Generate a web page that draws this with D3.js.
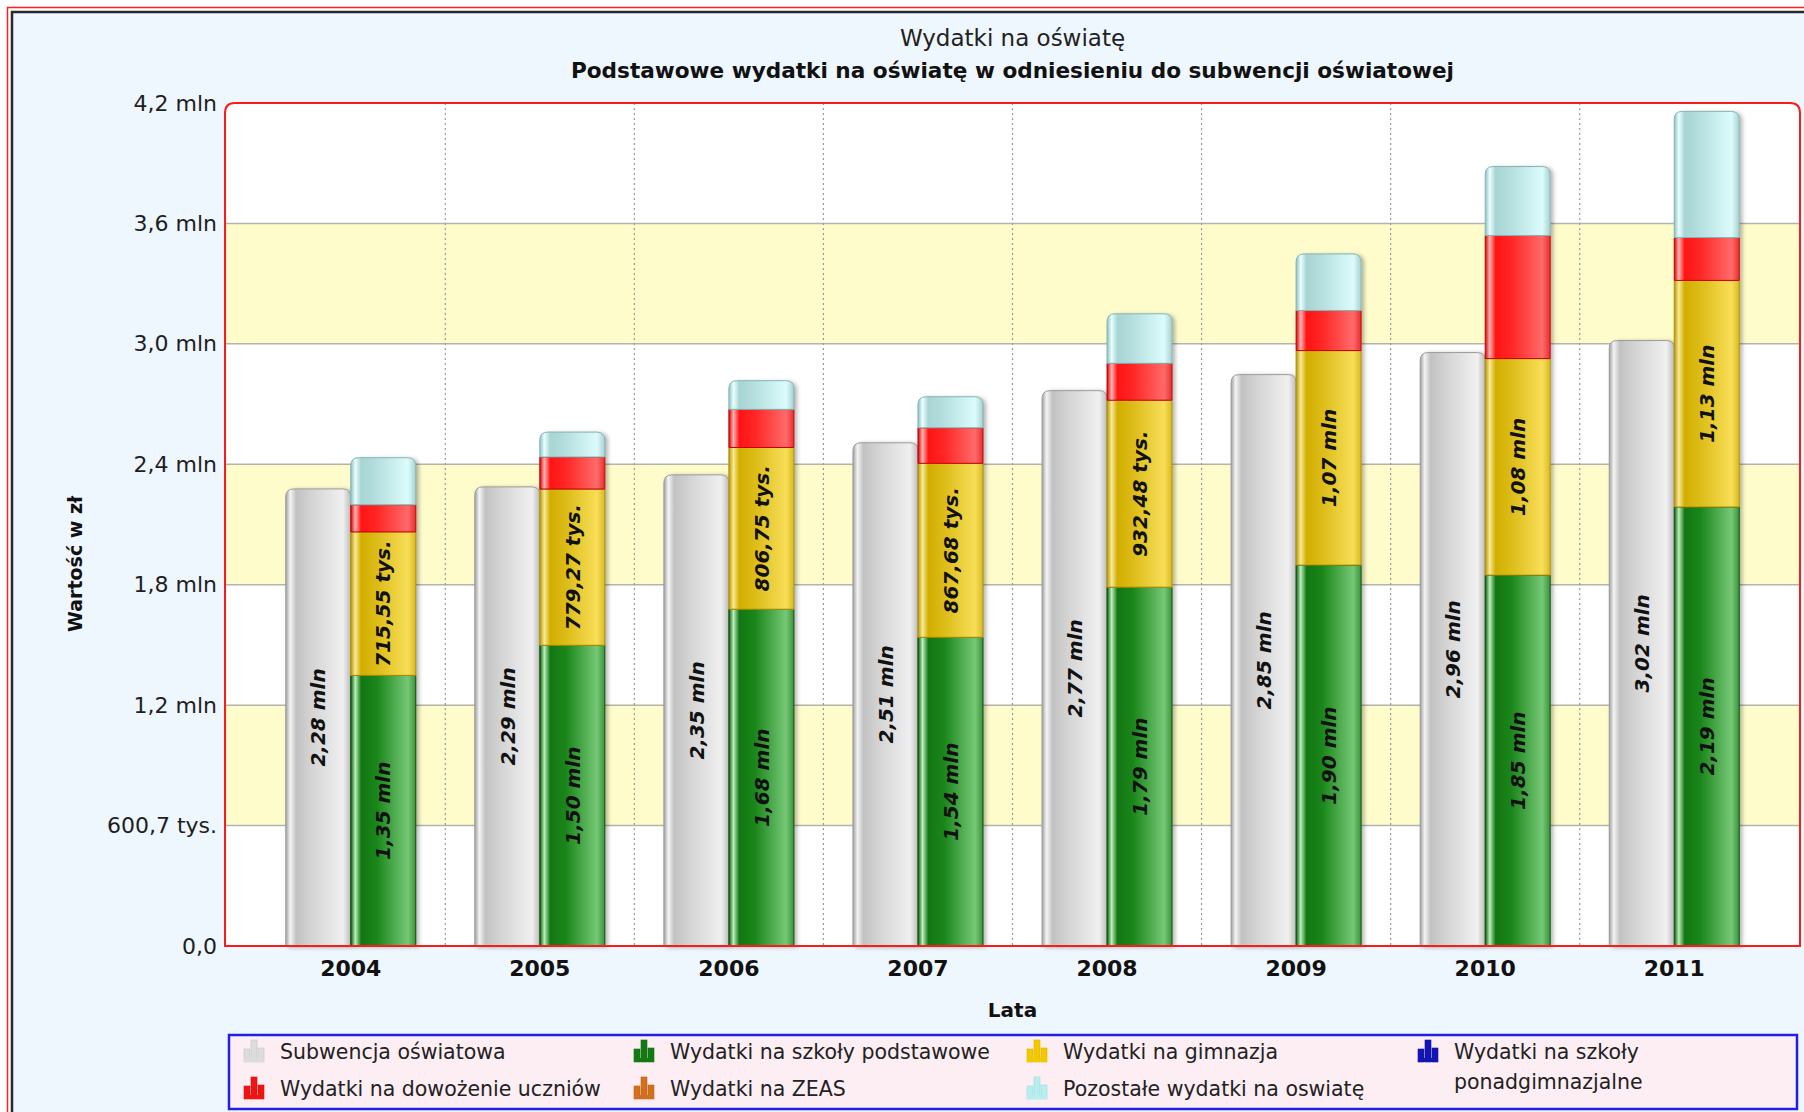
<!DOCTYPE html>
<html>
<head>
<meta charset="utf-8">
<script src="https://cdnjs.cloudflare.com/ajax/libs/d3/7.8.5/d3.min.js"></script>
<style>
body { margin: 0; background: #fff; }
svg { display: block; }
text { font-family: "DejaVu Sans", Verdana, sans-serif; }
</style>
</head>
<body>
<svg id="chart" width="1804" height="1112"></svg>
<script>
'use strict';

// data (values in zl)
var years = ['2004', '2005', '2006', '2007', '2008', '2009', '2010', '2011'];
var subwencja = [2280000, 2290000, 2350000, 2510000, 2770000, 2850000, 2960000, 3020000];
var podstawowe = [1350000, 1500000, 1680000, 1540000, 1790000, 1900000, 1850000, 2190000];
var gimnazja = [715550, 779270, 806750, 867680, 932480, 1070000, 1080000, 1130000];
var ponadgimnazjalne = [0, 0, 0, 0, 0, 0, 0, 0];
var dowozenie = [135000, 160000, 190000, 177000, 184000, 200000, 614000, 214000];
var zeas = [0, 0, 0, 0, 0, 0, 0, 0];
var pozostale = [235000, 124000, 143000, 155000, 247000, 282000, 344000, 629000];

var tickValues = [0, 600700, 1201400, 1802100, 2402800, 3003500, 3604200, 4204900];
var tickLabels = ['0,0', '600,7 tys.', '1,2 mln', '1,8 mln', '2,4 mln', '3,0 mln', '3,6 mln', '4,2 mln'];

var legendNames = ['Subwencja oświatowa', 'Wydatki na szkoły podstawowe', 'Wydatki na gimnazja',
    'Wydatki na szkoły ponadgimnazjalne', 'Wydatki na dowożenie uczniów', 'Wydatki na ZEAS',
    'Pozostałe wydatki na oswiatę'];
var legendColors = ['#dcdcdc', '#137a13', '#f2c800', '#1414b4', '#ee1414', '#d2701e', '#b4f0f0'];

var W = 1804, H = 1112;
var plot = {left: 225, top: 103, right: 1800, bottom: 946};

var svg = d3.select('#chart');
var defs = svg.append('defs');

// cylinder look gradients
var gradients = {
    sub: ['#a0a0a0', '#f4f4f4', '#c2c2c2', '#d4d4d4', '#f0f0f0', '#bcbcbc'],
    podstawowe: ['#0a5a0a', '#bcefbc', '#137613', '#1a861a', '#76c876', '#3a943a'],
    gimnazja: ['#b89600', '#f8ea98', '#d2ae00', '#dcbc18', '#f8de58', '#d8ba20'],
    ponadgimnazjalne: ['#0a0a80', '#b0b0ff', '#1414b4', '#2020c0', '#6060e0', '#3030a0'],
    dowozenie: ['#d80000', '#ffb4b4', '#ff1414', '#ff2626', '#ff6a6a', '#e83030'],
    zeas: ['#a04a10', '#f4c8a0', '#c8641e', '#d07028', '#e8a060', '#b86020'],
    pozostale: ['#8cc0c0', '#eaffff', '#a8d4d4', '#b6dfdf', '#dcfcfc', '#a8d0d0']
};
var stopOffsets = ['0%', '7%', '16%', '40%', '88%', '100%'];
Object.keys(gradients).forEach(function (key) {
    var g = defs.append('linearGradient').attr('id', 'grad-' + key)
        .attr('x1', '0%').attr('x2', '100%').attr('y1', '0%').attr('y2', '0%');
    gradients[key].forEach(function (c, i) {
        g.append('stop').attr('offset', stopOffsets[i]).attr('stop-color', c);
    });
});
var strokes = {sub: '#9c9c9c', podstawowe: '#0a4e0a', gimnazja: '#b09000', ponadgimnazjalne: '#0a0a70',
    dowozenie: '#c40000', zeas: '#904010', pozostale: '#86b4b4'};

var shadow = defs.append('filter').attr('id', 'shadow')
    .attr('x', '-20%').attr('y', '-5%').attr('width', '150%').attr('height', '110%');
shadow.append('feDropShadow').attr('dx', 3).attr('dy', 1).attr('stdDeviation', 2)
    .attr('flood-color', '#000').attr('flood-opacity', 0.3);

var roundedTop = function (x0, y0, w, h, r) {
    r = Math.min(r, h, w / 2);
    return 'M' + x0 + ',' + (y0 + h) + 'L' + x0 + ',' + (y0 + r) +
        'Q' + x0 + ',' + y0 + ' ' + (x0 + r) + ',' + y0 +
        'L' + (x0 + w - r) + ',' + y0 +
        'Q' + (x0 + w) + ',' + y0 + ' ' + (x0 + w) + ',' + (y0 + r) +
        'L' + (x0 + w) + ',' + (y0 + h) + 'Z';
};

// frame
svg.append('rect').attr('width', W).attr('height', H).attr('fill', '#fff');
svg.append('rect').attr('x', 7.5).attr('y', 7.5).attr('width', W).attr('height', H)
    .attr('fill', 'none').attr('stroke', '#ff2020').attr('stroke-width', 1.5);
svg.append('rect').attr('x', 12).attr('y', 12).attr('width', W).attr('height', H)
    .attr('fill', '#eef6fe').attr('stroke', '#2a2a2a').attr('stroke-width', 2.5);

// scales
var x = d3.scaleBand().domain(years).range([plot.left, plot.right]).paddingOuter(0.165);
var pair = d3.scaleBand().domain(['sub', 'stack']).range([-65, 65]);
var y = d3.scaleLinear().domain([0, tickValues[tickValues.length - 1]]).range([plot.bottom, plot.top]);

// plot background
var plotW = plot.right - plot.left, plotH = plot.bottom - plot.top;
defs.append('clipPath').attr('id', 'plot-clip').append('path')
    .attr('d', roundedTop(plot.left, plot.top, plotW, plotH, 10));
svg.append('path').attr('d', roundedTop(plot.left, plot.top, plotW, plotH, 10)).attr('fill', '#fff');

var grid = svg.append('g').attr('clip-path', 'url(#plot-clip)');
grid.selectAll('rect.band')
    .data(tickValues.slice(0, -1).filter(function (d, i) { return i % 2 === 1; }))
    .enter().append('rect').attr('class', 'band')
    .attr('x', plot.left)
    .attr('width', plotW)
    .attr('y', function (d) { return y(d + 600700); })
    .attr('height', function (d) { return y(d) - y(d + 600700); })
    .attr('fill', '#fffccc');
grid.selectAll('line.h')
    .data(tickValues.slice(1, -1))
    .enter().append('line').attr('class', 'h')
    .attr('x1', plot.left).attr('x2', plot.right)
    .attr('y1', function (d) { return y(d); }).attr('y2', function (d) { return y(d); })
    .attr('stroke', '#b4b4aa').attr('stroke-width', 1.5);
grid.selectAll('line.v')
    .data(years.slice(0, -1))
    .enter().append('line').attr('class', 'v')
    .attr('x1', function (d) { return x(d) + x.step(); })
    .attr('x2', function (d) { return x(d) + x.step(); })
    .attr('y1', plot.top).attr('y2', plot.bottom)
    .attr('stroke', '#999').attr('stroke-width', 1.2).attr('stroke-dasharray', '2,3');

// bars
var formatValue = function (v) {
    if (v >= 1e6) return d3.format('.2f')(v / 1e6).replace('.', ',') + ' mln';
    return d3.format('.2f')(v / 1e3).replace('.', ',') + ' tys.';
};

var keys = ['podstawowe', 'gimnazja', 'ponadgimnazjalne', 'dowozenie', 'zeas', 'pozostale'];
var seriesData = {podstawowe: podstawowe, gimnazja: gimnazja, ponadgimnazjalne: ponadgimnazjalne,
    dowozenie: dowozenie, zeas: zeas, pozostale: pozostale};
var table = years.map(function (yr, i) {
    var row = {year: yr, sub: subwencja[i]};
    keys.forEach(function (k) { row[k] = seriesData[k][i]; });
    return row;
});
var stacked = d3.stack().keys(keys)(table);

var bars = svg.append('g').attr('class', 'bars');
var bw = pair.bandwidth();

// subwencja bars
bars.selectAll('path.sub').data(table).enter().append('path').attr('class', 'sub')
    .attr('d', function (d) {
        var cx = x(d.year) + x.bandwidth() / 2;
        return roundedTop(cx + pair('sub'), y(d.sub), bw, y(0) - y(d.sub), 8);
    })
    .attr('fill', 'url(#grad-sub)').attr('stroke', strokes.sub).attr('stroke-width', 1)
    .attr('filter', 'url(#shadow)');

// stacked bars: shadow body first, then segments
var topOf = function (row) {
    var s = 0;
    keys.forEach(function (k) { s += row[k]; });
    return s;
};
bars.selectAll('path.body').data(table).enter().append('path').attr('class', 'body')
    .attr('d', function (d) {
        var cx = x(d.year) + x.bandwidth() / 2;
        return roundedTop(cx + pair('stack'), y(topOf(d)), bw, y(0) - y(topOf(d)), 8);
    })
    .attr('fill', '#fff').attr('filter', 'url(#shadow)');

stacked.forEach(function (layer) {
    var key = layer.key;
    bars.selectAll('path.seg-' + key).data(layer.filter(function (d) { return d[1] - d[0] > 0; }))
        .enter().append('path').attr('class', 'seg-' + key)
        .attr('d', function (d) {
            var cx = x(d.data.year) + x.bandwidth() / 2;
            var isTop = d[1] >= topOf(d.data);
            return roundedTop(cx + pair('stack'), y(d[1]), bw, y(d[0]) - y(d[1]), isTop ? 8 : 0);
        })
        .attr('fill', 'url(#grad-' + key + ')')
        .attr('stroke', strokes[key]).attr('stroke-width', 1);
});

// value labels
var labels = [];
table.forEach(function (d) {
    var cx = x(d.year) + x.bandwidth() / 2;
    labels.push({x: cx + pair('sub') + bw / 2, y: y(d.sub / 2), text: formatValue(d.sub)});
});
stacked.filter(function (l) { return l.key === 'podstawowe' || l.key === 'gimnazja'; })
    .forEach(function (layer) {
        layer.forEach(function (d) {
            var cx = x(d.data.year) + x.bandwidth() / 2;
            labels.push({x: cx + pair('stack') + bw / 2, y: y((d[0] + d[1]) / 2), text: formatValue(d[1] - d[0])});
        });
    });
bars.selectAll('text.val').data(labels).enter().append('text').attr('class', 'val')
    .attr('transform', function (d) { return 'translate(' + d.x + ',' + d.y + ') rotate(-90)'; })
    .attr('text-anchor', 'middle').attr('dy', '0.36em')
    .attr('font-size', 20).attr('font-weight', 'bold').attr('font-style', 'italic')
    .attr('fill', '#111')
    .text(function (d) { return d.text; });

// plot border
svg.append('path').attr('d', roundedTop(plot.left, plot.top, plotW, plotH, 10))
    .attr('fill', 'none').attr('stroke', '#ff1a1a').attr('stroke-width', 2);

// axes
var yAxis = svg.append('g').attr('transform', 'translate(' + plot.left + ',0)')
    .call(d3.axisLeft(y).tickValues(tickValues).tickSize(0).tickPadding(8)
        .tickFormat(function (d, i) { return tickLabels[i]; }));
yAxis.select('.domain').remove();
yAxis.selectAll('text').attr('font-size', 22).attr('fill', '#1e1e1e')
    .attr('font-family', '"DejaVu Sans", Verdana, sans-serif');

var xAxis = svg.append('g').attr('transform', 'translate(0,' + plot.bottom + ')')
    .call(d3.axisBottom(x).tickSize(0).tickPadding(14));
xAxis.select('.domain').remove();
xAxis.selectAll('text').attr('font-size', 22).attr('font-weight', 'bold').attr('fill', '#111')
    .attr('font-family', '"DejaVu Sans", Verdana, sans-serif');

// titles
svg.append('text').attr('x', (plot.left + plot.right) / 2).attr('y', 38).attr('dy', '0.35em')
    .attr('text-anchor', 'middle').attr('font-size', 23).attr('fill', '#222')
    .text('Wydatki na oświatę');
svg.append('text').attr('x', (plot.left + plot.right) / 2).attr('y', 70).attr('dy', '0.35em')
    .attr('text-anchor', 'middle').attr('font-size', 21.6).attr('font-weight', 'bold').attr('fill', '#111')
    .text('Podstawowe wydatki na oświatę w odniesieniu do subwencji oświatowej');
svg.append('text').attr('x', (plot.left + plot.right) / 2).attr('y', 1010).attr('dy', '0.35em')
    .attr('text-anchor', 'middle').attr('font-size', 20).attr('font-weight', 'bold').attr('fill', '#111')
    .text('Lata');
svg.append('text').attr('transform', 'translate(75,564) rotate(-90)').attr('dy', '0.35em')
    .attr('text-anchor', 'middle').attr('font-size', 19).attr('font-weight', 'bold').attr('fill', '#111')
    .text('Wartość w zł');

// legend
var legendBox = {x: 229, y: 1035, w: 1568, h: 74};
var legend = svg.append('g');
legend.append('rect').attr('x', legendBox.x).attr('y', legendBox.y)
    .attr('width', legendBox.w).attr('height', legendBox.h)
    .attr('fill', '#fdeef4').attr('stroke', '#2020e0').attr('stroke-width', 2.5);

var colX = d3.scaleOrdinal().domain([0, 1, 2, 3]).range([236, 626, 1019, 1410]);
var rowY = d3.scaleOrdinal().domain([0, 1]).range([1052, 1089]);
var legendPos = [[0, 0], [1, 0], [2, 0], [3, 0], [0, 1], [1, 1], [2, 1]];

var items = legend.selectAll('g.item').data(legendNames).enter().append('g').attr('class', 'item')
    .attr('transform', function (d, i) {
        return 'translate(' + colX(legendPos[i][0]) + ',' + rowY(legendPos[i][1]) + ')';
    });
// little bar glyph icons
var glyph = [[0, -3, 6, 13], [7, -12, 6, 22], [14, -4, 6, 14]];
items.each(function (d, i) {
    var g = d3.select(this);
    g.selectAll('rect').data(glyph).enter().append('rect')
        .attr('x', function (r) { return r[0] + 8; }).attr('y', function (r) { return r[1]; })
        .attr('width', function (r) { return r[2]; }).attr('height', function (r) { return r[3]; })
        .attr('fill', legendColors[i])
        .attr('stroke', d3.color(legendColors[i]).darker(0.3)).attr('stroke-width', 0.6);
    g.append('rect').attr('x', 8).attr('y', 6).attr('width', 20).attr('height', 4)
        .attr('fill', legendColors[i]);
});
items.append('text').attr('x', 44)
    .attr('font-size', 20.5).attr('fill', '#222')
    .each(function (d, i) {
        var t = d3.select(this);
        if (i === 3) {
            t.append('tspan').attr('x', 44).attr('y', 0).attr('dy', '0.35em').text('Wydatki na szkoły');
            t.append('tspan').attr('x', 44).attr('y', 30).attr('dy', '0.35em').text('ponadgimnazjalne');
        } else {
            t.attr('dy', '0.35em').text(d);
        }
    });
</script>
</body>
</html>
